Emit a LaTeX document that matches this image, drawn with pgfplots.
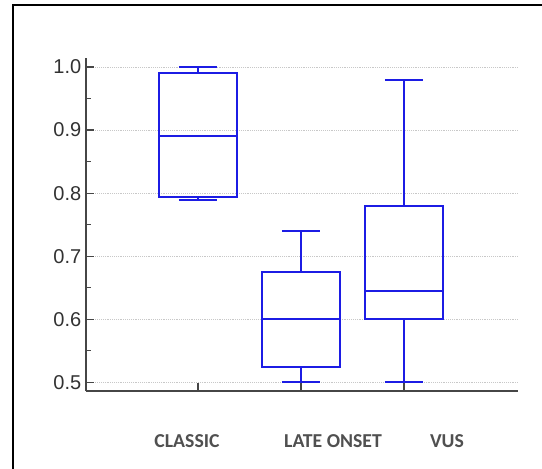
\documentclass[border=0pt]{standalone}
\usepackage{pgfplots}
\pgfplotsset{compat=1.18}
\usepgfplotslibrary{statistics}
\usepackage{fontspec}
\setmainfont{Liberation Sans}
\newfontfamily\calib{Carlito}
\definecolor{boxblue}{RGB}{28,28,228}
\definecolor{axgray}{RGB}{70,70,70}
\definecolor{txtgray}{RGB}{50,50,50}
\definecolor{labgray}{RGB}{80,80,80}
\definecolor{gridgray}{RGB}{200,200,200}
\begin{document}
\begin{tikzpicture}
\path[use as bounding box] (0,0) rectangle (406.5pt,351pt);
\draw[black,line width=1.5pt] (9.75pt,-2pt) -- (9.75pt,347.25pt) -- (410pt,347.25pt);
\begin{axis}[
  at={(64.5pt,57.75pt)}, anchor=south west,
  scale only axis, width=324pt, height=249.75pt,
  xmin=-0.0874, xmax=4.107, ymin=0.4862, ymax=1.0143,
  axis x line*=bottom, axis y line*=left,
  axis line style={axgray, line width=1.1pt, -},
  xtick={1,2,3}, xticklabels={},
  ytick={0.5,0.6,0.7,0.8,0.9,1.0},
  yticklabels={0.5,0.6,0.7,0.8,0.9,1.0},
  minor ytick={0.55,0.65,0.75,0.85,0.95},
  tick align=inside,
  major tick length=6pt, minor tick length=3.5pt,
  tick style={axgray, line width=0.9pt},
  ymajorgrids, grid style={gridgray, densely dotted, line width=0.6pt},
  y tick label style={font=\fontsize{15}{17}\selectfont, text=txtgray, xshift=0pt},
  boxplot/draw direction=y,
  clip=false,
]
\addplot+[boxblue, line width=1.5pt, solid, mark=none,
  boxplot prepared={lower whisker=0.789, lower quartile=0.794, median=0.89,
    upper quartile=0.99, upper whisker=1.0, draw position=1,
    box extend=0.76, whisker extend=0.37}] coordinates {};
\addplot+[boxblue, line width=1.5pt, solid, mark=none,
  boxplot prepared={lower whisker=0.50, lower quartile=0.525, median=0.60,
    upper quartile=0.675, upper whisker=0.74, draw position=2,
    box extend=0.76, whisker extend=0.37}] coordinates {};
\addplot+[boxblue, line width=1.5pt, solid, mark=none,
  boxplot prepared={lower whisker=0.50, lower quartile=0.60, median=0.645,
    upper quartile=0.78, upper whisker=0.98, draw position=3,
    box extend=0.76, whisker extend=0.37}] coordinates {};
\path (axis cs:0.893,0.4862) node[yshift=-37.5pt, font=\calib\bfseries\fontsize{14.8}{17}\selectfont, text=labgray] {CLASSIC};
\path (axis cs:2.311,0.4862) node[yshift=-37.5pt, font=\calib\bfseries\fontsize{14.8}{17}\selectfont, text=labgray] {LATE ONSET};
\path (axis cs:3.417,0.4862) node[yshift=-37.5pt, font=\calib\bfseries\fontsize{14.8}{17}\selectfont, text=labgray] {VUS};
\end{axis}
\end{tikzpicture}
\end{document}
